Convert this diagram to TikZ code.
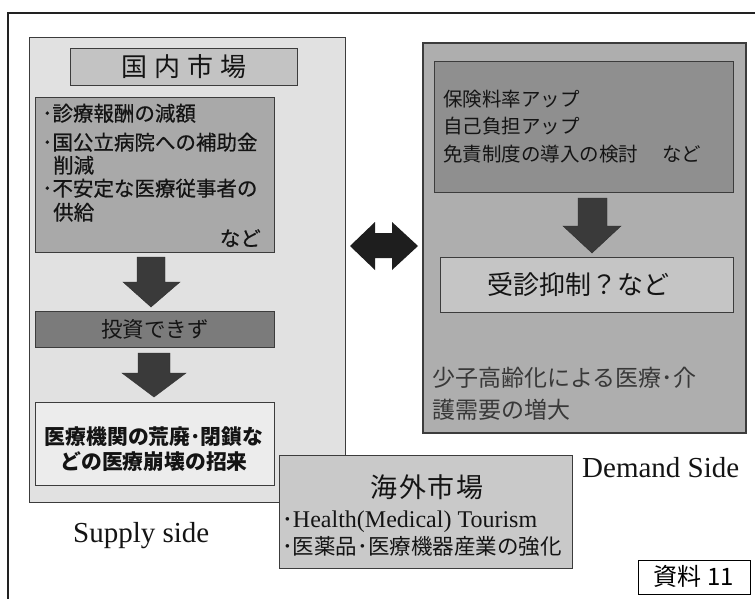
\documentclass[tikz,border=0pt]{standalone}
\usepackage{fontspec}
\setmainfont{Liberation Serif}
\newfontfamily\jp{Noto Sans CJK JP}
\newfontfamily\jpm[FakeBold=0.6]{Noto Sans CJK JP}
\definecolor{frameC}{HTML}{222222}
\definecolor{edgeC}{HTML}{3C3C3C}
\definecolor{supplyF}{HTML}{E1E1E1}
\definecolor{titleF}{HTML}{C3C3C3}
\definecolor{bulletF}{HTML}{A9A9A9}
\definecolor{investF}{HTML}{7B7B7B}
\definecolor{collapseF}{HTML}{ECECEC}
\definecolor{overseasF}{HTML}{C9C9C9}
\definecolor{demandF}{HTML}{AEAEAE}
\definecolor{insureF}{HTML}{8F8F8F}
\definecolor{suppressF}{HTML}{C5C5C5}
\definecolor{arrowF}{HTML}{3A3A3A}
\definecolor{darrowF}{HTML}{1E1E1E}
\definecolor{textC}{HTML}{141414}
\definecolor{greyT}{HTML}{383838}
\begin{document}
\begin{tikzpicture}[x=1pt,y=-1pt,
  panel/.style={draw=edgeC, line width=1.3pt, inner sep=0pt, anchor=north west},
  jptxt/.style={font=\jp\fontsize{#1}{#1}\selectfont, text=textC, inner sep=0pt},
  jpmtxt/.style={font=\jpm\fontsize{#1}{#1}\selectfont, text=textC, inner sep=0pt},
  jpbtxt/.style={font=\jp\bfseries\fontsize{#1}{#1}\selectfont, text=textC, inner sep=0pt},
  latxt/.style={font=\fontsize{#1}{#1}\selectfont, text=textC, inner sep=0pt},
  blockarrow/.style={fill=arrowF, draw=arrowF!80!black, line width=0.4pt, line join=miter}
]
\useasboundingbox (0,0) rectangle (755,599);
% outer frame
\draw[frameC, line width=1.2pt] (8,600) -- (8,13) -- (756,13);

% ---------- supply side ----------
\node[panel, fill=supplyF, minimum width=316pt, minimum height=465pt] (supply) at (29,37) {};
\node[panel, fill=titleF, minimum width=227pt, minimum height=37pt] (title) at (70,48) {};
\node[jptxt=26, anchor=base] (titleT) at (184,76.5) {国\hspace{7pt}内\hspace{7pt}市\hspace{7pt}場};
\node[panel, fill=bulletF, minimum width=239pt, minimum height=155pt] (bullets) at (35,97) {};
\node[jpmtxt=20.5, anchor=base west] (b1) at (42,121) {･診療報酬の減額};
\node[jpmtxt=20.5, anchor=base west] (b2) at (42,150) {･国公立病院への補助金};
\node[jpmtxt=20.5, anchor=base west] (b3) at (53,173) {削減};
\node[jpmtxt=20.5, anchor=base west] (b4) at (42,196) {･不安定な医療従事者の};
\node[jpmtxt=20.5, anchor=base west] (b5) at (53,220) {供給};
\node[jpmtxt=20.5, anchor=base east] (b6) at (261,246) {など};

\fill[blockarrow] (137,257) -- (165,257) -- (165,282) -- (180,282) -- (151,307) -- (123,282) -- (137,282) -- cycle;

\node[panel, fill=investF, minimum width=239pt, minimum height=36pt] (invest) at (35,311) {};
\node[jptxt=21.5, anchor=base] (investT) at (155,337.5) {投資できず};

\fill[blockarrow] (138,353) -- (170,353) -- (170,373) -- (186,373) -- (154,397) -- (122,373) -- (138,373) -- cycle;

\node[panel, fill=collapseF, minimum width=239pt, minimum height=83pt] (collapse) at (35,402) {};
\node[jpbtxt=20.8, anchor=base] (c1) at (154,444.5) {医療機関の荒廃･閉鎖な};
\node[jpbtxt=20.8, anchor=base] (c2) at (154,469.5) {どの医療崩壊の招来};

\node[latxt=29, anchor=base west] (supplyT) at (73,542) {Supply side};

% ---------- demand side ----------
\node[panel, fill=demandF, line width=1.6pt, minimum width=323pt, minimum height=390pt] (demand) at (422,42) {};
\node[panel, fill=insureF, minimum width=299pt, minimum height=131pt] (insure) at (434,61) {};
\node[jptxt=19.5, anchor=base west] (i1) at (443,107) {保険料率アップ};
\node[jptxt=19.5, anchor=base west] (i2) at (443,134) {自己負担アップ};
\node[jptxt=19.5, anchor=base west] (i3) at (443,161) {免責制度の導入の検討\hspace{24pt}など};

\fill[blockarrow] (578,198) -- (607,198) -- (607,226) -- (621,226) -- (592,253) -- (563,226) -- (578,226) -- cycle;

\node[panel, fill=suppressF, minimum width=293pt, minimum height=55pt] (suppress) at (440,257) {};
\node[jptxt=26, anchor=base] (suppressT) at (578,294) {受診抑制？など};

\node[jptxt=23, text=greyT, anchor=base west] (d1) at (432,386) {少子高齢化による医療･介};
\node[jptxt=23, text=greyT, anchor=base west] (d2) at (432,418) {護需要の増大};

\node[latxt=29, anchor=base west] (demandT) at (582,477) {Demand Side};

% ---------- double arrow ----------
\fill[darrowF] (350,246) -- (375,222) -- (375,233) -- (392,233) -- (392,222) -- (418,246)
  -- (392,270) -- (392,258) -- (375,258) -- (375,270) -- cycle;

% ---------- overseas ----------
\node[panel, fill=overseasF, minimum width=293pt, minimum height=113pt] (overseas) at (279,455) {};
\node[jptxt=27, anchor=base] (overseasT) at (427,497) {海\hspace{2pt}外\hspace{2pt}市\hspace{2pt}場};
\node[latxt=24, anchor=base west] (o1) at (282,527) {{\jp\fontsize{21.5}{21.5}\selectfont ･}Health(Medical) Tourism};
\node[jptxt=21.5, anchor=base west] (o2) at (282,554.5) {･医薬品･医療機器産業の強化};

% ---------- label ----------
\node[draw=black, line width=1pt, fill=white, inner sep=0pt, anchor=north west,
  minimum width=112pt, minimum height=34pt] (label) at (638,560) {};
\node[jptxt=24, text=black, anchor=base] (labelT) at (694,585) {資料 11};
\end{tikzpicture}
\end{document}
